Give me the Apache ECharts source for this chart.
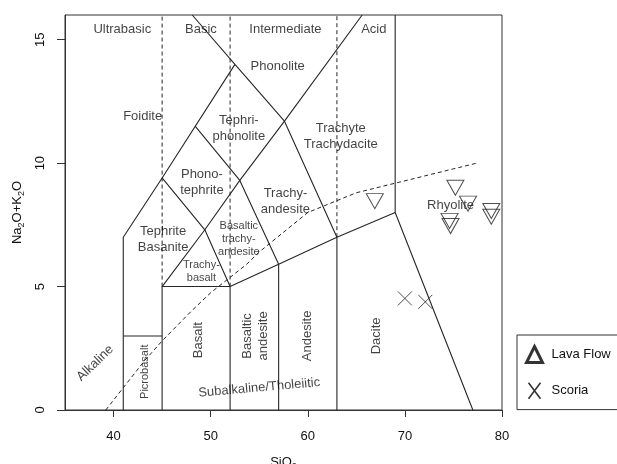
<!DOCTYPE html>
<html>
<head>
<meta charset="utf-8">
<script src="https://cdn.jsdelivr.net/npm/echarts@6/dist/echarts.min.js"></script>
<style>
  html, body { margin: 0; padding: 0; background: #fff; }
  #tas { width: 617px; height: 464px; }
</style>
</head>
<body>
<div id="tas"></div>
<script>
// tick labels
var xTicks = [40, 50, 60, 70, 80];
var yTicks = [0, 5, 10, 15];

// TAS field boundaries (SiO2, Na2O+K2O)
var solidLines = [
    [[41, 0], [41, 7], [45, 9.4], [52.5, 14]],
    [[48.1, 16], [52.5, 14], [57.6, 11.7], [63, 7]],
    [[45, 5], [49.4, 7.3], [53, 9.3], [57.6, 11.7], [65.6, 16]],
    [[45, 9.4], [49.4, 7.3], [52, 5]],
    [[48.4, 11.5], [53, 9.3], [57, 5.9], [57, 0]],
    [[41, 3], [45, 3]],
    [[45, 0], [45, 5], [52, 5], [52, 0]],
    [[52, 5], [57, 5.9], [63, 7], [69, 8], [77, 0]],
    [[63, 0], [63, 7]],
    [[69, 8], [69, 16]]
];
var dashedLines = [
    [[45, 5], [45, 16]],
    [[52, 5], [52, 16]],
    [[63, 7], [63, 16]]
];
// alkaline / subalkaline divide
var alkalineSiO2 = [39.2, 40, 43.2, 45, 48, 50, 53.7, 55, 60, 65, 77.4];
var alkalineTA = [0, 0.4, 2, 2.8, 4, 4.75, 5.9, 6.4, 8, 8.8, 10];

// samples
var lavaSiO2 = [66.9, 75.2, 76.5, 78.9, 78.9, 74.6, 74.7];
var lavaTA = [8.46, 9.0, 8.36, 8.06, 7.83, 7.66, 7.45];
var scoriaSiO2 = [70.0, 72.1];
var scoriaTA = [4.52, 4.38];

// field names: [text, SiO2, Na2O+K2O, rotation]
var fieldNames = [
    ['Ultrabasic', 40.9, 15.4, 0],
    ['Basic', 49.0, 15.4, 0],
    ['Intermediate', 57.7, 15.4, 0],
    ['Acid', 66.8, 15.4, 0],
    ['Phonolite', 56.9, 13.9, 0],
    ['Foidite', 43.0, 11.9, 0],
    ['Tephri-\nphonolite', 52.9, 11.4, 0],
    ['Trachyte\nTrachydacite', 63.4, 11.1, 0],
    ['Phono-\ntephrite', 49.1, 9.2, 0],
    ['Trachy-\nandesite', 57.7, 8.43, 0],
    ['Tephrite\nBasanite', 45.1, 6.92, 0],
    ['Rhyolite', 74.7, 8.27, 0],
    ['Dacite', 67.1, 3.0, 90],
    ['Andesite', 60.0, 3.0, 90],
    ['Basaltic\nandesite', 54.6, 3.0, 90],
    ['Basalt', 48.7, 2.83, 90],
    ['Alkaline', 38.1, 1.9, 44],
    ['Subalkaline/Tholeiitic', 55.0, 0.9, 5]
];
var smallNames = [
    ['Basaltic\ntrachy-\nandesite', 52.9, 6.92, 0],
    ['Trachy-\nbasalt', 49.05, 5.6, 0],
    ['Picrobasalt', 43.2, 1.55, 90]
];

function zip(a, b) {
    return a.map(function (v, i) { return [v, b[i]]; });
}

var lineColor = '#262626';
var textColor = '#111';
var series = [];
solidLines.forEach(function (pts) {
    series.push({
        type: 'line', data: pts, symbol: 'none', silent: true,
        lineStyle: { color: lineColor, width: 1.1 }
    });
});
dashedLines.concat([zip(alkalineSiO2, alkalineTA)]).forEach(function (pts) {
    series.push({
        type: 'line', data: pts, symbol: 'none', silent: true,
        lineStyle: { color: lineColor, width: 1, type: [4, 3] }
    });
});

function labelSeries(list, size, lh) {
    return {
        type: 'scatter', silent: true, symbolSize: 0,
        data: list.map(function (d) {
            return {
                value: [d[1], d[2]],
                label: { rotate: d[3] },
                text: d[0]
            };
        }),
        label: {
            show: true, position: 'inside',
            formatter: function (p) { return p.data.text; },
            color: textColor, fontSize: size, lineHeight: lh,
            fontFamily: 'Liberation Sans, Arial, sans-serif'
        },
        z: 5
    };
}
series.push(labelSeries(fieldNames, 13, 16));
series.push(labelSeries(smallNames, 11, 13));

series.push({
    name: 'Lava Flow', type: 'scatter',
    data: zip(lavaSiO2, lavaTA),
    symbol: 'triangle', symbolRotate: 180, symbolSize: [17, 15],
    itemStyle: { color: 'rgba(0,0,0,0)', borderColor: '#222', borderWidth: 1 },
    z: 6
});
series.push({
    name: 'Scoria', type: 'scatter',
    data: zip(scoriaSiO2, scoriaTA),
    symbol: 'path://M0,0L10,10M10,0L0,10', symbolSize: 14,
    itemStyle: { color: 'rgba(0,0,0,0)', borderColor: '#222', borderWidth: 1 },
    z: 6
});

var chart = echarts.init(document.getElementById('tas'));
chart.setOption({
    animation: false,
    backgroundColor: '#fff',
    textStyle: { fontFamily: 'Liberation Sans, Arial, sans-serif' },
    grid: {
        left: 65, right: 115, top: 15, bottom: 54,
        outerBoundsMode: 'none', containLabel: false,
        show: true, borderColor: '#333', borderWidth: 1, backgroundColor: 'transparent'
    },
    legend: {
        orient: 'vertical', left: 517, top: 335,
        borderColor: '#333', borderWidth: 1,
        padding: [10, 60, 10, 8], itemGap: 18,
        itemWidth: 16, itemHeight: 16,
        textStyle: { fontSize: 13, color: textColor, padding: [0, 0, 0, 4] },
        data: [
            {
                name: 'Lava Flow', icon: 'path://M8,0L16,16L0,16Z',
                itemStyle: { color: 'rgba(0,0,0,0)', borderColor: '#000', borderWidth: 3 }
            },
            {
                name: 'Scoria', icon: 'path://M0,0L12,16M12,0L0,16',
                itemStyle: { color: 'rgba(0,0,0,0)', borderColor: '#000', borderWidth: 1.6 }
            }
        ]
    },
    xAxis: {
        type: 'value', min: 35, max: 80,
        name: 'SiO{s|2}', nameLocation: 'middle', nameGap: 44,
        nameTextStyle: {
            fontSize: 13, color: textColor,
            rich: { s: { fontSize: 9, verticalAlign: 'bottom', padding: [8, 0, 0, 0] } }
        },
        splitLine: { show: false },
        axisLine: { lineStyle: { color: '#333' } },
        axisTick: { customValues: xTicks, length: 7, lineStyle: { color: '#333' } },
        axisLabel: { customValues: xTicks, margin: 20, fontSize: 13, color: textColor }
    },
    yAxis: {
        type: 'value', min: 0, max: 16,
        name: 'Na{s|2}O+K{s|2}O', nameLocation: 'middle', nameGap: 38,
        nameTextStyle: {
            fontSize: 13, color: textColor,
            rich: { s: { fontSize: 9, verticalAlign: 'bottom', padding: [8, 0, 0, 0] } }
        },
        splitLine: { show: false },
        axisLine: { lineStyle: { color: '#333' } },
        axisTick: { customValues: yTicks, length: 8, lineStyle: { color: '#333' } },
        axisLabel: { customValues: yTicks, rotate: 90, margin: 18, fontSize: 13, color: textColor }
    },
    series: series
});
</script>
</body>
</html>
